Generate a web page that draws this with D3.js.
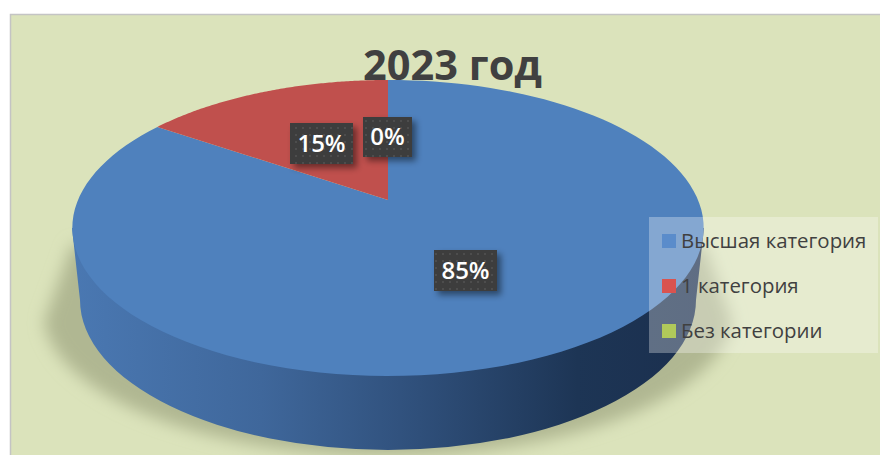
<!DOCTYPE html>
<html>
<head>
<meta charset="utf-8">
<script src="https://cdn.jsdelivr.net/npm/d3@7"></script>
<style>
  html, body { margin: 0; padding: 0; background: #fff; }
  svg { display: block; }
  text { font-family: "Open Sans", sans-serif; }
</style>
</head>
<body>
<div id="chart"></div>
<script>
const TITLE = "2023 год";
const categories = ["Высшая категория", "1 категория", "Без категории"];
const values = [84.6, 15.4, 0];
const labels = ["85%", "15%", "0%"];
const colors = ["#4f81bd", "#c0504d", "#9bbb59"];
const legendColors = ["#5a8ccb", "#d9534f", "#b0c95a"];

const width = 880;
const height = 455;

// perspective of the pie top: apex sits above the middle of the ellipse
const CX = 388, CY = 200, R = 310, A = 142.7, K = 0.189;

function project(angle) {
  const u = Math.sin(angle), v = Math.cos(angle);
  const d = 1 + K * v;
  return [CX + R * u / d, CY - A * v / d];
}

const svg = d3.select("#chart").append("svg")
  .attr("width", width)
  .attr("height", height);

const defs = svg.append("defs");

const sideGrad = defs.append("linearGradient").attr("id", "side");
[[0, "#4a78b2"], [0.3, "#3f679b"], [0.55, "#2f4f7a"], [0.8, "#1d3555"], [1, "#1b2f4e"]].forEach(s => {
  sideGrad.append("stop").attr("offset", s[0]).attr("stop-color", s[1]);
});

defs.append("filter").attr("id", "blur")
  .attr("x", "-20%").attr("y", "-20%").attr("width", "140%").attr("height", "140%")
  .append("feGaussianBlur").attr("stdDeviation", 8);

const boxShadow = defs.append("filter").attr("id", "boxShadow")
  .attr("x", "-30%").attr("y", "-30%").attr("width", "170%").attr("height", "170%");
boxShadow.append("feDropShadow")
  .attr("dx", 4).attr("dy", 4).attr("stdDeviation", 3)
  .attr("flood-color", "#000").attr("flood-opacity", 0.45);

const dots = defs.append("pattern").attr("id", "dots")
  .attr("width", 7).attr("height", 7).attr("patternUnits", "userSpaceOnUse");
dots.append("rect").attr("width", 7).attr("height", 7).attr("fill", "#3c3c3c");
dots.append("circle").attr("cx", 2).attr("cy", 2).attr("r", 1).attr("fill", "#525252");

// page panel
svg.append("rect")
  .attr("x", 10.5).attr("y", 14.5)
  .attr("width", width).attr("height", height)
  .attr("fill", "#dbe3bb")
  .attr("stroke", "#c4c4c4")
  .attr("stroke-width", 1.5);

// ground shadow
svg.append("path")
  .attr("d", "M72,245 L44,322 A345,145 0 0 0 732,322 L704,245 Z")
  .attr("fill", "#b0b792")
  .attr("filter", "url(#blur)");

// side wall
svg.append("path")
  .attr("d", "M72,228 L80,300 A308,150 0 0 0 696,300 L704,228 Z")
  .attr("fill", "url(#side)");

// top face, slices from d3.pie
const pie = d3.pie().sort(null).value(d => d);
const arcs = pie(values);
const line = d3.line();

function slicePath(d) {
  const steps = 120;
  const angles = d3.range(steps + 1).map(i => d.startAngle + (d.endAngle - d.startAngle) * i / steps);
  return line([[CX, CY]].concat(angles.map(project))) + "Z";
}

svg.append("g").selectAll("path")
  .data(arcs)
  .enter()
  .append("path")
  .attr("d", slicePath)
  .attr("fill", (d, i) => colors[i]);

// title
svg.append("text")
  .attr("x", 452.5)
  .attr("y", 80)
  .attr("text-anchor", "middle")
  .attr("font-size", 41.5)
  .attr("font-weight", 700)
  .attr("fill", "#404040")
  .text(TITLE);

// data labels
const labelBoxes = [
  { x: 434, y: 250, w: 63, h: 41, size: 24 },
  { x: 290, y: 123, w: 63, h: 41, size: 24 },
  { x: 363, y: 117, w: 49, h: 40, size: 24 }
];

const labelG = svg.append("g").selectAll("g")
  .data(labelBoxes)
  .enter()
  .append("g");

labelG.append("rect")
  .attr("x", d => d.x)
  .attr("y", d => d.y)
  .attr("width", d => d.w)
  .attr("height", d => d.h)
  .attr("fill", "url(#dots)")
  .attr("filter", "url(#boxShadow)");

labelG.append("text")
  .attr("x", d => d.x + d.w / 2)
  .attr("y", d => d.y + d.h / 2 + 8)
  .attr("text-anchor", "middle")
  .attr("font-size", d => d.size)
  .attr("font-weight", 600)
  .attr("fill", "#fff")
  .text((d, i) => labels[i]);

// legend
svg.append("rect")
  .attr("x", 649).attr("y", 217)
  .attr("width", 229).attr("height", 136)
  .attr("fill", "#fff")
  .attr("opacity", 0.3);

const legendY = d3.scalePoint().domain(categories).range([241, 331]);

const legendRow = svg.append("g").selectAll("g")
  .data(categories)
  .enter()
  .append("g")
  .attr("transform", d => `translate(0,${legendY(d)})`);

legendRow.append("rect")
  .attr("x", 662).attr("y", -7)
  .attr("width", 14).attr("height", 14)
  .attr("fill", (d, i) => legendColors[i]);

legendRow.append("text")
  .attr("x", 681).attr("y", 7)
  .attr("font-size", 20.4)
  .attr("fill", "#404040")
  .text(d => d);
</script>
</body>
</html>
